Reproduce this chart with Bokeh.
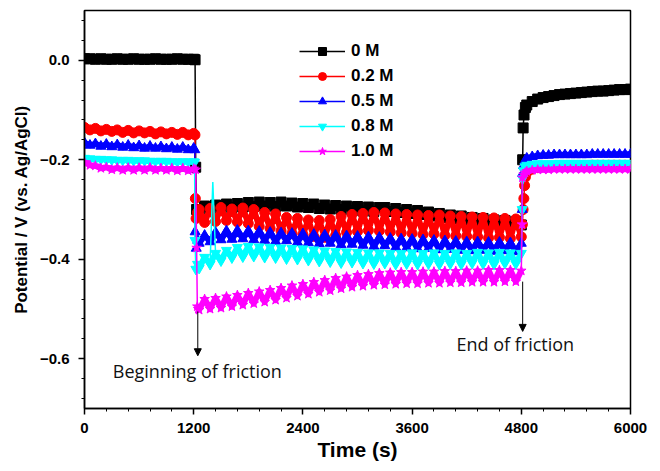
from bokeh.plotting import figure
from bokeh.models import (FixedTicker, Legend, LegendItem, Arrow, NormalHead,
                          CustomJSTickFormatter, Range1d, ColumnDataSource)
from bokeh.core.properties import value
from bokeh.embed import file_html
from bokeh.resources import INLINE

# ---------------- data ----------------
series_names = ["0 M", "0.2 M", "0.5 M", "0.8 M", "1.0 M"]
series_colors = ["#000000", "#FF0000", "#0000FF", "#00FFFF", "#FF00FF"]
series_markers = ["square", "circle", "triangle", "inverted_triangle", "star"]

x_ticks = [0, 1200, 2400, 3600, 4800, 6000]
y_ticks = [-0.6, -0.4, -0.2, 0.0]

t_pre = [0, 60, 120, 180, 240, 300, 360, 420, 480, 540, 600, 660, 720, 780,
         840, 900, 960, 1020, 1080, 1140, 1200]
t_fric = [1260, 1320, 1380, 1440, 1500, 1560, 1620, 1680, 1740, 1800, 1860,
          1920, 1980, 2040, 2100, 2160, 2220, 2280, 2340, 2400, 2460, 2520,
          2580, 2640, 2700, 2760, 2820, 2880, 2940, 3000, 3060, 3120, 3180,
          3240, 3300, 3360, 3420, 3480, 3540, 3600, 3660, 3720, 3780, 3840,
          3900, 3960, 4020, 4080, 4140, 4200, 4260, 4320, 4380, 4440, 4500,
          4560, 4620, 4680, 4740, 4800]
t_post = [4860, 4920, 4980, 5040, 5100, 5160, 5220, 5280, 5340, 5400, 5460,
          5520, 5580, 5640, 5700, 5760, 5820, 5880, 5940, 6000]

# 0 M
black_pre = [0.003, 0.003, 0.002, 0.003, 0.002, 0.002, 0.003, 0.002, 0.002, 0.003,
             0.002, 0.002, 0.002, 0.003, 0.002, 0.002, 0.002, 0.003, 0.002, 0.002, 0.002]
black_on_t = [1215, 1222, 1232]
black_on_v = [0.001, -0.215, -0.300]
black_fric = [-0.302, -0.293, -0.300, -0.291, -0.298, -0.289, -0.296, -0.288, -0.295, -0.286,
              -0.294, -0.285, -0.293, -0.286, -0.294, -0.285, -0.293, -0.287, -0.295, -0.288,
              -0.296, -0.289, -0.298, -0.291, -0.299, -0.292, -0.300, -0.293, -0.302, -0.294,
              -0.303, -0.295, -0.304, -0.296, -0.296, -0.304, -0.298, -0.306, -0.300, -0.308,
              -0.302, -0.310, -0.305, -0.313, -0.308, -0.316, -0.311, -0.319, -0.313, -0.321,
              -0.316, -0.324, -0.318, -0.326, -0.321, -0.329, -0.322, -0.330, -0.324, -0.331]
black_off_t = [4815, 4820, 4830, 4845]
black_off_v = [-0.200, -0.136, -0.110, -0.095]
black_post = [-0.090, -0.083, -0.078, -0.075, -0.073, -0.071, -0.069, -0.068, -0.067, -0.066,
              -0.065, -0.064, -0.063, -0.062, -0.062, -0.061, -0.060, -0.059, -0.059, -0.058]

# 0.2 M
red_pre = [-0.135, -0.140, -0.137, -0.142, -0.139, -0.143, -0.140, -0.145, -0.141, -0.146,
           -0.142, -0.146, -0.143, -0.148, -0.144, -0.148, -0.145, -0.149, -0.145, -0.150, -0.147]
red_on_t = [1214, 1218, 1226, 1242]
red_on_v = [-0.150, -0.278, -0.318, -0.306]
red_fric = [-0.300, -0.326, -0.298, -0.324, -0.296, -0.322, -0.299, -0.325, -0.297, -0.328,
            -0.300, -0.334, -0.306, -0.338, -0.309, -0.343, -0.316, -0.348, -0.318, -0.350,
            -0.321, -0.354, -0.322, -0.356, -0.320, -0.352, -0.314, -0.346, -0.310, -0.344,
            -0.308, -0.342, -0.306, -0.343, -0.307, -0.345, -0.309, -0.347, -0.310, -0.348,
            -0.311, -0.350, -0.312, -0.349, -0.311, -0.352, -0.313, -0.353, -0.314, -0.354,
            -0.315, -0.355, -0.316, -0.357, -0.317, -0.356, -0.318, -0.358, -0.319, -0.355]
red_off_t = [4812, 4820, 4828, 4836, 4845]
red_off_v = [-0.330, -0.300, -0.278, -0.252, -0.235]
red_post = [-0.226, -0.219, -0.216, -0.214, -0.213, -0.213, -0.212, -0.212, -0.212, -0.212,
            -0.212, -0.212, -0.211, -0.211, -0.211, -0.211, -0.211, -0.211, -0.211, -0.211]

# 0.5 M
blue_pre = [-0.166, -0.171, -0.168, -0.173, -0.169, -0.174, -0.170, -0.175, -0.171, -0.176,
            -0.172, -0.177, -0.173, -0.177, -0.174, -0.178, -0.175, -0.179, -0.175, -0.180, -0.177]
blue_on_t = [1212, 1216, 1228, 1244]
blue_on_v = [-0.180, -0.345, -0.378, -0.362]
blue_fric = [-0.368, -0.352, -0.365, -0.346, -0.361, -0.343, -0.360, -0.342, -0.359, -0.343,
             -0.361, -0.344, -0.362, -0.346, -0.364, -0.347, -0.363, -0.348, -0.366, -0.349,
             -0.367, -0.350, -0.369, -0.351, -0.368, -0.352, -0.371, -0.353, -0.370, -0.354,
             -0.372, -0.355, -0.374, -0.356, -0.373, -0.358, -0.376, -0.359, -0.377, -0.360,
             -0.379, -0.361, -0.378, -0.362, -0.381, -0.363, -0.380, -0.364, -0.382, -0.365,
             -0.383, -0.365, -0.382, -0.366, -0.384, -0.366, -0.383, -0.367, -0.385, -0.368]
blue_off_t = [4810, 4814, 4825, 4840]
blue_off_v = [-0.300, -0.228, -0.212, -0.202]
blue_post = [-0.197, -0.194, -0.192, -0.191, -0.191, -0.190, -0.190, -0.190, -0.190, -0.190,
             -0.190, -0.190, -0.189, -0.189, -0.189, -0.189, -0.189, -0.189, -0.189, -0.189]

# 0.8 M
cyan_pre = [-0.197, -0.198, -0.199, -0.199, -0.200, -0.200, -0.201, -0.201, -0.201, -0.202,
            -0.202, -0.202, -0.203, -0.203, -0.203, -0.203, -0.204, -0.204, -0.204, -0.204, -0.204]
cyan_on_t = [1210, 1214, 1224, 1242]
cyan_on_v = [-0.205, -0.362, -0.420, -0.410]
cyan_fric = [-0.418, -0.396, -0.410, -0.388, -0.403, -0.382, -0.397, -0.376, -0.395, -0.374,
             -0.394, -0.375, -0.396, -0.376, -0.397, -0.377, -0.399, -0.378, -0.400, -0.379,
             -0.402, -0.381, -0.404, -0.383, -0.405, -0.384, -0.407, -0.385, -0.406, -0.386,
             -0.408, -0.387, -0.409, -0.387, -0.408, -0.388, -0.410, -0.388, -0.409, -0.387,
             -0.410, -0.388, -0.409, -0.387, -0.410, -0.388, -0.409, -0.387, -0.410, -0.388,
             -0.408, -0.386, -0.409, -0.387, -0.410, -0.386, -0.408, -0.387, -0.409, -0.388]
cyan_spike_t = [1410]
cyan_spike_v = [-0.245]
cyan_off_t = [4810, 4814, 4825, 4840]
cyan_off_v = [-0.300, -0.238, -0.222, -0.214]
cyan_post = [-0.211, -0.209, -0.208, -0.208, -0.208, -0.208, -0.207, -0.207, -0.207, -0.207,
             -0.207, -0.207, -0.207, -0.207, -0.207, -0.207, -0.207, -0.207, -0.207, -0.207]

# 1.0 M
mag_pre = [-0.205, -0.211, -0.212, -0.217, -0.215, -0.220, -0.216, -0.221, -0.216, -0.221,
           -0.216, -0.221, -0.216, -0.221, -0.217, -0.221, -0.217, -0.222, -0.217, -0.222, -0.218]
mag_on_t = [1222, 1232, 1240, 1250]
mag_on_v = [-0.220, -0.377, -0.495, -0.500]
mag_fric = [-0.502, -0.480, -0.500, -0.478, -0.498, -0.475, -0.495, -0.472, -0.492, -0.468,
            -0.489, -0.465, -0.486, -0.462, -0.482, -0.458, -0.478, -0.453, -0.474, -0.450,
            -0.470, -0.446, -0.466, -0.442, -0.463, -0.438, -0.459, -0.435, -0.456, -0.432,
            -0.454, -0.430, -0.452, -0.428, -0.451, -0.427, -0.450, -0.426, -0.449, -0.426,
            -0.449, -0.425, -0.448, -0.425, -0.448, -0.424, -0.447, -0.424, -0.447, -0.423,
            -0.446, -0.423, -0.446, -0.422, -0.446, -0.422, -0.445, -0.422, -0.445, -0.423]
mag_off_t = [4808, 4812, 4825, 4842]
mag_off_v = [-0.330, -0.236, -0.230, -0.226]
mag_post = [-0.223, -0.221, -0.220, -0.220, -0.220, -0.219, -0.219, -0.219, -0.219, -0.219,
            -0.219, -0.219, -0.219, -0.219, -0.219, -0.219, -0.219, -0.219, -0.219, -0.219]

# annotations
arrow_begin = dict(x=1245, y_start=-0.505, y_end=-0.594)
arrow_end = dict(x=4815, y_start=-0.445, y_end=-0.545)
notes_text = ["Beginning of friction", "End of friction"]
notes_x = [1240, 4734]
notes_y = [-0.624, -0.570]


def merge(*pairs):
    pts = []
    for ts, vs in pairs:
        assert len(ts) == len(vs)
        pts += list(zip(ts, vs))
    pts.sort(key=lambda q: q[0])
    return [q[0] for q in pts], [q[1] for q in pts]


series = [
    (black_pre, black_on_t, black_on_v, black_fric, black_off_t, black_off_v, black_post, [], []),
    (red_pre, red_on_t, red_on_v, red_fric, red_off_t, red_off_v, red_post, [], []),
    (blue_pre, blue_on_t, blue_on_v, blue_fric, blue_off_t, blue_off_v, blue_post, [], []),
    (cyan_pre, cyan_on_t, cyan_on_v, cyan_fric, cyan_off_t, cyan_off_v, cyan_post,
     cyan_spike_t, cyan_spike_v),
    (mag_pre, mag_on_t, mag_on_v, mag_fric, mag_off_t, mag_off_v, mag_post, [], []),
]

# ---------------- figure ----------------
p = figure(width=652, height=463, x_range=Range1d(0, 6000), y_range=Range1d(-0.7, 0.1),
           output_backend="svg", toolbar_location=None,
           min_border_left=84, min_border_right=22, min_border_top=10, min_border_bottom=50)
p.xgrid.visible = False
p.ygrid.visible = False
p.outline_line_color = "black"
p.outline_line_width = 1.5
p.background_fill_color = "white"
p.border_fill_color = "white"

FONT = "Liberation Sans"
for ax in (p.xaxis[0], p.yaxis[0]):
    ax.axis_line_width = 1.5
    ax.major_tick_in = 0
    ax.major_tick_out = 6
    ax.minor_tick_in = 0
    ax.minor_tick_out = 3
    ax.major_tick_line_width = 1.5
    ax.minor_tick_line_width = 1
    ax.major_label_text_font = FONT
    ax.major_label_text_font_style = "bold"
    ax.major_label_text_font_size = "15px"
    ax.major_label_text_color = "black"
    ax.axis_label_text_font = FONT
    ax.axis_label_text_font_style = "bold"
    ax.axis_label_text_color = "black"

p.xaxis.ticker = FixedTicker(ticks=x_ticks, minor_ticks=[i * 240 for i in range(26)])
p.yaxis.ticker = FixedTicker(ticks=y_ticks, minor_ticks=[-0.68 + i * 0.04 for i in range(20)])
p.yaxis.formatter = CustomJSTickFormatter(
    code="return tick.toFixed(1).replace('-', '\u2212');")
p.xaxis.axis_label = "Time (s)"
p.xaxis.axis_label_text_font_size = "21px"
p.xaxis.major_label_standoff = 8
p.xaxis.axis_label_standoff = 2
p.yaxis.axis_label = "Potential / V (vs. Ag/AgCl)"
p.yaxis.axis_label_text_font_size = "17px"
p.yaxis.major_label_standoff = 9
p.yaxis.axis_label_standoff = 6

items = []
for s, name, col, mk in zip(series, series_names, series_colors, series_markers):
    pre, on_t, on_v, fric, off_t, off_v, post, ex_t, ex_v = s
    assert len(pre) == len(t_pre) and len(fric) == len(t_fric) and len(post) == len(t_post)
    # thick band for the three steady segments
    p.multi_line(xs=[t_pre, t_fric, t_post], ys=[pre, fric, post], line_color=col,
                 line_width=6, line_join="round")
    # thin full trace (with transitions and spikes)
    ft, fv = merge((t_pre, pre), (on_t, on_v), (t_fric, fric), (off_t, off_v),
                   (t_post, post), (ex_t, ex_v))
    lr = p.line(ft, fv, line_color=col, line_width=1.5)
    mt, mv = merge((t_pre, pre), (on_t, on_v), (t_fric, fric), (off_t, off_v), (t_post, post))
    sr = p.scatter(mt, mv, marker=mk, size=10, fill_color=col, line_color=col, line_width=1)
    items.append(LegendItem(label=name, renderers=[lr, sr]))

legend = Legend(items=items, location=(215, 247), background_fill_alpha=0,
                border_line_alpha=0, padding=0, margin=0, spacing=5,
                glyph_width=46, glyph_height=20, label_height=20, label_standoff=6,
                label_text_font=FONT, label_text_font_style="bold",
                label_text_font_size="17px", label_text_color="black")
p.add_layout(legend)

for a in (arrow_begin, arrow_end):
    p.add_layout(Arrow(end=NormalHead(size=7, fill_color="black", line_color="black"),
                       x_start=a["x"], y_start=a["y_start"], x_end=a["x"], y_end=a["y_end"],
                       line_color="black", line_width=1))

p.text(x=notes_x, y=notes_y, text=notes_text, text_font=value("Open Sans"),
       text_font_size="18px", text_align="center", text_baseline="middle",
       text_color="#111111")

open("out.html", "w").write(file_html(p, INLINE))
